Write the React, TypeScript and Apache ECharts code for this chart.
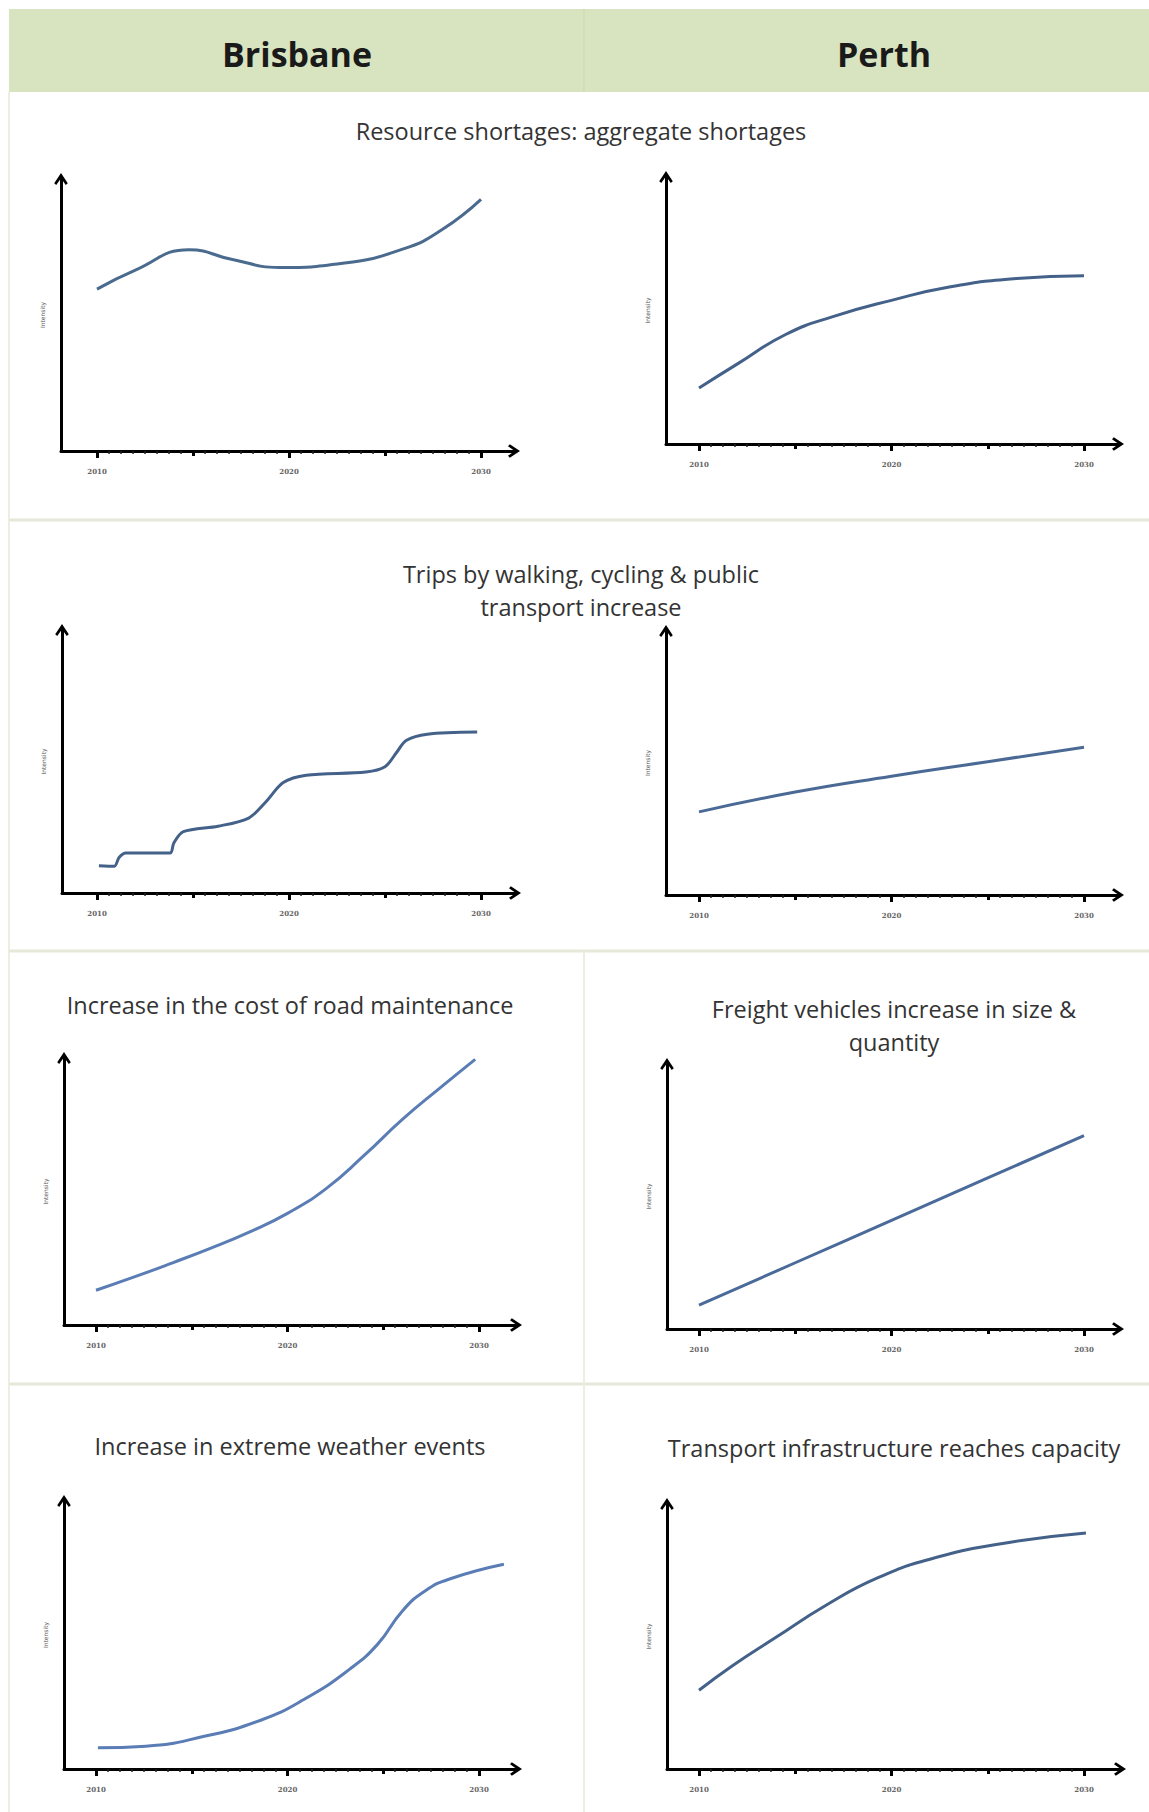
import React, { useEffect, useRef } from "react";
import * as echarts from "echarts";

// ---------- DATA ----------
const columnHeaders = ["Brisbane", "Perth"];
const tickYears = [2010, 2020, 2030];
const tickLabels = ["2010", "2020", "2030"];
const midTickYears = [2015, 2025];
const yAxisName = "Intensity";

const titleRow1 = ["Resource shortages: aggregate shortages"];
const titleRow2 = ["Trips by walking, cycling & public", "transport increase"];
const titleRow3Left = ["Increase in the cost of road maintenance"];
const titleRow3Right = ["Freight vehicles increase in size &", "quantity"];
const titleRow4Left = ["Increase in extreme weather events"];
const titleRow4Right = ["Transport infrastructure reaches capacity"];

const resourceBrisbane: [number, number][] = [
  [2010, 59.5], [2012, 66.5], [2014.8, 74], [2017, 70.5], [2019.5, 67.5],
  [2022.8, 69], [2026, 74.4], [2028, 81.5], [2030, 92.5],
];
const resourcePerth: [number, number][] = [
  [2010, 21], [2012, 30], [2014.5, 41], [2017, 47.8], [2020, 53.8],
  [2023, 58.8], [2026.5, 62], [2030, 63],
];
const tripsBrisbane: [number, number][] = [
  [2010.1, 10.4], [2010.9, 10.2], [2011.15, 13.5], [2011.5, 15.2], [2013.8, 15.2],
  [2014.0, 19], [2014.5, 23.3], [2016.3, 25.4], [2017.9, 28.5], [2018.8, 34.7],
  [2019.7, 42], [2020.9, 44.8], [2024.0, 46], [2025.0, 48], [2025.6, 53.4],
  [2026.1, 58], [2027.2, 60.4], [2029.8, 61.2],
];
const tripsPerth: [number, number][] = [
  [2010, 31.5], [2015, 39], [2020, 45], [2025, 50.5], [2030, 56],
];
const roadCostBrisbane: [number, number][] = [
  [2010, 13], [2012, 18], [2014, 23.3], [2016, 28.8], [2018, 34.8], [2020, 41.8],
  [2022, 51], [2024, 63.5], [2026, 77], [2028, 89], [2029.8, 99.5],
];
const freightPerth: [number, number][] = [
  [2010, 9], [2015, 25], [2020, 41], [2025, 57], [2030, 73],
];
const weatherBrisbane: [number, number][] = [
  [2010.1, 7.9], [2012.6, 8.5], [2015.6, 12.1], [2018.6, 18.2], [2020.9, 26.1],
  [2023.2, 37], [2024.7, 46.5], [2026, 59], [2027.2, 66.5], [2028.5, 71],
  [2031.3, 76.4],
];
const capacityPerth: [number, number][] = [
  [2010, 29.7], [2011.7, 38.8], [2014, 49.7], [2016.6, 61.8], [2019.3, 72.2],
  [2022.3, 79.8], [2026.1, 85.5], [2030.1, 89.1],
];

// ---------- LAYOUT ----------
const W = 1149;
const H = 1812;
const ARROW = "path://M0,9 L6,0 L12,9 L10.2,10.6 L6,4.6 L1.8,10.6 Z";
const AH = 6; // half arrow height

const panels = [
  { L: 61, axisY: 451, arrowTop: 173, tip: 520, a: 97, b: 481, data: resourceBrisbane, color: "#4a6a8e", smooth: 0.5 },
  { L: 666, axisY: 444, arrowTop: 171, tip: 1124, a: 699, b: 1084, data: resourcePerth, color: "#44618a", smooth: 0.5 },
  { L: 62, axisY: 893, arrowTop: 624, tip: 521, a: 97, b: 481, data: tripsBrisbane, color: "#44618a", smooth: 0.3 },
  { L: 666, axisY: 895, arrowTop: 625, tip: 1124, a: 699, b: 1084, data: tripsPerth, color: "#4a6a95", smooth: 0.5 },
  { L: 64, axisY: 1325, arrowTop: 1052, tip: 522, a: 96, b: 479, data: roadCostBrisbane, color: "#5a7db5", smooth: 0.5 },
  { L: 667, axisY: 1329, arrowTop: 1058, tip: 1124, a: 699, b: 1084, data: freightPerth, color: "#4a6a9a", smooth: 0.5 },
  { L: 64, axisY: 1769, arrowTop: 1495, tip: 522, a: 96, b: 479, data: weatherBrisbane, color: "#5a7db5", smooth: 0.5 },
  { L: 667, axisY: 1769, arrowTop: 1498, tip: 1126, a: 699, b: 1084, data: capacityPerth, color: "#44618a", smooth: 0.5 },
];

const titleBlocks = [
  { lines: titleRow1, x: 581, y: 131 },
  { lines: titleRow2, x: 581, y: 574 },
  { lines: titleRow3Left, x: 290, y: 1005 },
  { lines: titleRow3Right, x: 894, y: 1009 },
  { lines: titleRow4Left, x: 290, y: 1446 },
  { lines: titleRow4Right, x: 894, y: 1448 },
];

const minorTicks: number[] = [];
for (let k = 1; k < 32; k++) {
  if (k % 8 !== 0) minorTicks.push(2010 + k * 0.625);
}

function buildOption() {
  const grid: any[] = [];
  const xAxis: any[] = [];
  const yAxis: any[] = [];
  const series: any[] = [];

  panels.forEach((p, i) => {
    const R = p.tip - AH;
    const top = p.arrowTop + AH;
    const ppy = (p.b - p.a) / 20;
    const min = 2010 - (p.a - p.L) / ppy;
    const max = 2030 + (R - p.b) / ppy;
    grid.push({ left: p.L, top, width: R - p.L, height: p.axisY - top, containLabel: false });

    const base = {
      type: "value",
      gridIndex: i,
      position: "bottom",
      min,
      max,
      splitLine: { show: false },
    };
    xAxis.push({
      ...base,
      axisLine: {
        show: true,
        onZero: false,
        symbol: ["none", ARROW],
        symbolSize: [14, 12],
        lineStyle: { color: "#000", width: 3 },
      },
      axisTick: {
        show: true,
        customValues: tickYears,
        length: 7,
        lineStyle: { color: "#000", width: 3 },
      },
      axisLabel: {
        show: true,
        customValues: tickYears,
        margin: 17,
        fontSize: 7,
        fontWeight: "bold",
        color: "#666",
        fontFamily: "DejaVu Serif",
        formatter: (v: number) => {
          const idx = tickYears.indexOf(Math.round(v));
          return idx >= 0 ? tickLabels[idx] : "";
        },
      },
    });
    xAxis.push({
      ...base,
      axisLine: { show: false },
      axisTick: {
        show: true,
        customValues: midTickYears,
        length: 5,
        lineStyle: { color: "#000", width: 3 },
      },
      axisLabel: { show: false },
    });
    xAxis.push({
      ...base,
      axisLine: { show: false },
      axisTick: {
        show: true,
        customValues: minorTicks,
        length: 3,
        lineStyle: { color: "#222", width: 1.5 },
      },
      axisLabel: { show: false },
    });

    yAxis.push({
      type: "value",
      gridIndex: i,
      min: 0,
      max: 100,
      splitLine: { show: false },
      axisLine: {
        show: true,
        onZero: false,
        symbol: ["none", ARROW],
        symbolSize: [14, 12],
        lineStyle: { color: "#000", width: 3 },
      },
      axisTick: { show: false },
      axisLabel: { show: false },
      name: yAxisName,
      nameLocation: "middle",
      nameGap: 16,
      nameRotate: 90,
      nameTextStyle: { fontSize: 6, color: "#555", fontFamily: "DejaVu Sans" },
    });

    series.push({
      type: "line",
      xAxisIndex: i * 3,
      yAxisIndex: i,
      data: p.data,
      smooth: p.smooth,
      showSymbol: false,
      silent: true,
      lineStyle: { width: 3, color: p.color },
    });
  });

  const graphic: any[] = [];
  graphic.push({
    type: "rect",
    shape: { x: 9, y: 9, width: W - 9, height: 83 },
    style: { fill: "#d8e4bf" },
    silent: true,
    z: -10,
  });
  graphic.push({
    type: "line",
    shape: { x1: 584, y1: 9, x2: 584, y2: 92 },
    style: { stroke: "#c9d7ad", lineWidth: 1 },
    silent: true,
  });
  graphic.push({
    type: "line",
    shape: { x1: 9, y1: 92, x2: 9, y2: H },
    style: { stroke: "#eceee2", lineWidth: 2 },
    silent: true,
  });
  [520, 951, 1384].forEach((y) => {
    graphic.push({
      type: "line",
      shape: { x1: 9, y1: y, x2: W, y2: y },
      style: { stroke: "#e6e9da", lineWidth: 3 },
      silent: true,
    });
  });
  graphic.push({
    type: "line",
    shape: { x1: 584, y1: 951, x2: 584, y2: H },
    style: { stroke: "#eceee2", lineWidth: 2 },
    silent: true,
  });
  [297, 884].forEach((x, i) => {
    graphic.push({
      type: "text",
      x,
      y: 54,
      style: {
        text: columnHeaders[i],
        fontFamily: "Open Sans",
        fontWeight: "bold",
        fontSize: 34,
        fill: "#1a1a1a",
        align: "center",
        verticalAlign: "middle",
      },
      silent: true,
    });
  });
  titleBlocks.forEach((t) => {
    t.lines.forEach((line, j) => {
      graphic.push({
        type: "text",
        x: t.x,
        y: t.y + j * 33,
        style: {
          text: line,
          fontFamily: "Open Sans",
          fontSize: 23.5,
          fill: "#333",
          align: "center",
          verticalAlign: "middle",
        },
        silent: true,
      });
    });
  });

  return {
    animation: false,
    backgroundColor: "#ffffff",
    grid,
    xAxis,
    yAxis,
    series,
    graphic,
  };
}

export default function App() {
  const ref = useRef<HTMLDivElement>(null);
  useEffect(() => {
    document.body.style.margin = "0";
    if (!ref.current) return;
    const chart = echarts.init(ref.current, undefined, { renderer: "svg" });
    chart.setOption(buildOption() as any);
    return () => chart.dispose();
  }, []);
  return <div ref={ref} style={{ width: W, height: H }} />;
}
